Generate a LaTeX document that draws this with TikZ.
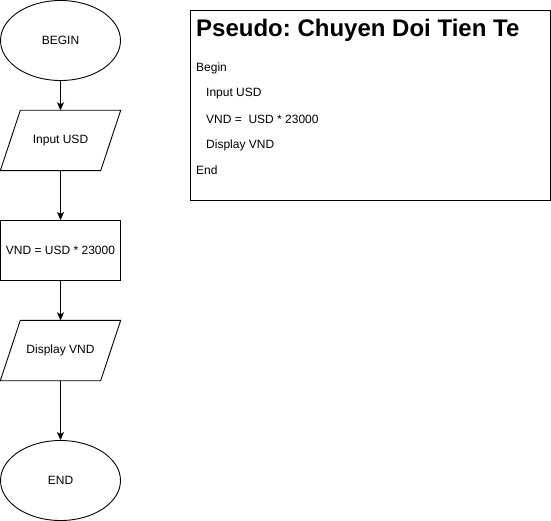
\documentclass[tikz,border=0pt]{standalone}
\usepackage{fontspec}
\setmainfont{Liberation Sans}
\usetikzlibrary{shapes.geometric,arrows.meta}
\frenchspacing
\begin{document}
\begin{tikzpicture}[x=1pt,y=-1pt,
  every node/.style={font=\fontsize{12}{14}\selectfont},
  terminal/.style={draw,line width=0.9pt,ellipse,minimum width=120pt,minimum height=80pt,inner sep=0pt},
  iobox/.style={rectangle,minimum width=100pt,minimum height=60pt,inner sep=0pt},
  ioshape/.style={line width=0.9pt,line join=miter},
  procbox/.style={draw,line width=0.9pt,rectangle,minimum width=120pt,minimum height=60pt,inner sep=0pt},
  flow/.style={line width=0.9pt,-{Stealth[length=8pt,width=7pt,inset=2pt]}},
  codeline/.style={anchor=base west,inner sep=0pt}]
\useasboundingbox (0,0) rectangle (551,521);
\node[terminal] (begin) at (60.5,40.5) {BEGIN};
\node[iobox] (input) at (60.5,140.5) {Input USD};
\draw[ioshape] ([xshift=10pt]input.north west) -- ([xshift=10pt]input.north east)
  -- ([xshift=-10pt]input.south east) -- ([xshift=-10pt]input.south west) -- cycle;
\node[procbox] (calc) at (60.5,250.5) {VND = USD * 23000};
\node[iobox] (display) at (60.5,350.5) {Display VND};
\draw[ioshape] ([xshift=10pt]display.north west) -- ([xshift=10pt]display.north east)
  -- ([xshift=-10pt]display.south east) -- ([xshift=-10pt]display.south west) -- cycle;
\node[terminal] (end) at (60.5,480.5) {END};
\draw[flow] (begin) -- (input);
\draw[flow] (input) -- (calc);
\draw[flow] (calc) -- (display);
\draw[flow] (display) -- (end);
\node[draw,line width=0.9pt,minimum width=360pt,minimum height=190pt,inner sep=0pt] (pseudo) at (370.5,105.5) {};
\node[codeline,font=\fontsize{24}{28}\selectfont\bfseries] (title) at (196,37) {Pseudo: Chuyen Doi Tien Te};
\node[codeline] (l1) at (196,71.5) {Begin};
\node[codeline] (l2) at (206,97) {Input USD};
\node[codeline] (l3) at (206,123.5) {VND =\ \ USD * 23000};
\node[codeline] (l4) at (206,149) {Display VND};
\node[codeline] (l5) at (196,175) {End};
\end{tikzpicture}
\end{document}
